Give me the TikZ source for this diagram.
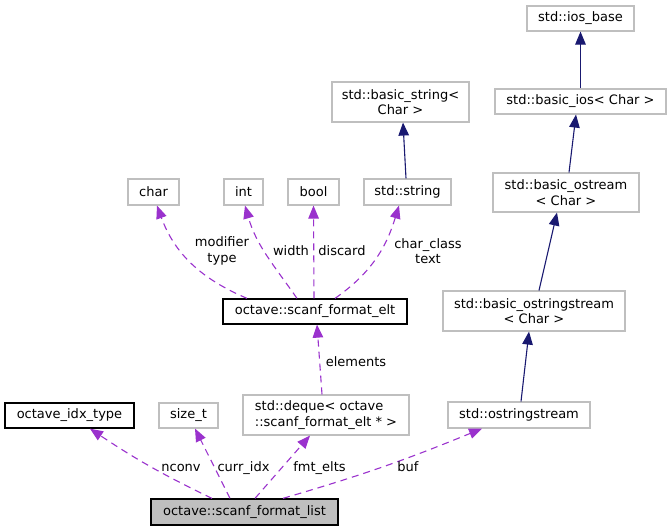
\documentclass[tikz,border=0pt]{standalone}
\usepackage{fontspec}
\setmainfont{DejaVu Sans}
\usetikzlibrary{arrows.meta}
\definecolor{edgepurple}{HTML}{9A32CD}
\definecolor{edgenavy}{HTML}{191970}
\definecolor{boxgray}{HTML}{BFBFBF}
\tikzset{
  cls/.style={draw=boxgray, line width=1.1pt, fill=white, inner sep=0pt, align=center, font=\fontsize{13}{15.5}\selectfont},
  doc/.style={cls, draw=black, line width=1.3pt},
  cur/.style={cls, draw=black, line width=1.3pt, fill=boxgray},
  member/.style={draw=edgepurple, line width=1.1pt, dash pattern=on 7pt off 5pt, -{Triangle[length=13pt,width=10.5pt]}},
  inherit/.style={draw=edgenavy, line width=1.1pt, -{Triangle[length=13pt,width=10.5pt]}},
  lbl/.style={inner sep=0pt, align=center, font=\fontsize{13}{15.5}\selectfont},
}
\begin{document}
\begin{tikzpicture}[x=1pt,y=1pt]
\useasboundingbox (0,0) rectangle (671,-531);
% nodes
\node[cls, minimum width=107pt, minimum height=25pt] (ios) at (580.5,-18.5) {std::ios\_base};
\node[cls, minimum width=171pt, minimum height=25pt] (bios) at (580.5,-101.5) {std::basic\_ios< Char >};
\node[cls, minimum width=146pt, minimum height=39pt] (bost) at (566,-192.5) {std::basic\_ostream\\< Char >};
\node[cls, minimum width=182pt, minimum height=40pt] (bostr) at (534,-311) {std::basic\_ostringstream\\< Char >};
\node[cls, minimum width=142pt, minimum height=26pt] (ostr) at (519,-415) {std::ostringstream};
\node[cls, minimum width=137pt, minimum height=40pt] (bstr) at (400.5,-102) {std::basic\_string<\\Char >};
\node[cls, minimum width=87pt, minimum height=26pt] (str) at (407.5,-192) {std::string};
\node[cls, minimum width=51pt, minimum height=26pt] (chr) at (153.5,-192) {char};
\node[cls, minimum width=39pt, minimum height=26pt] (int) at (243.5,-192) {int};
\node[cls, minimum width=51pt, minimum height=26pt] (bool) at (313.5,-192) {bool};
\node[doc, minimum width=184pt, minimum height=25pt] (elt) at (315,-311.5) {octave::scanf\_format\_elt};
\node[doc, minimum width=129pt, minimum height=25pt] (idx) at (69.5,-415.5) {octave\_idx\_type};
\node[cls, minimum width=59pt, minimum height=25pt] (sizet) at (188.5,-415.5) {size\_t};
\node[cls, minimum width=166pt, minimum height=40pt, align=left] (deque) at (326,-415) {std::deque< octave\\::scanf\_format\_elt * >};
\node[cur, minimum width=187pt, minimum height=26pt] (list) at (244.5,-512) {octave::scanf\_format\_list};
% inheritance edges
\draw[inherit] (bios.north) -- (ios.south);
\draw[inherit] ([xshift=3pt]bost.north) -- ([xshift=-4.5pt]bios.south);
\draw[inherit] ([xshift=5pt]bostr.north) -- ([xshift=-9pt]bost.south);
\draw[inherit] ([xshift=2pt]ostr.north) -- ([xshift=-5pt]bostr.south);
\draw[inherit] ([xshift=-1.5pt]str.north) -- ([xshift=2.5pt]bstr.south);
% member edges from scanf_format_elt
\draw[member] ([xshift=-68pt]elt.north) to[out=157,in=-70] ([xshift=3.5pt]chr.south);
\draw[member] ([xshift=-18pt]elt.north) to[out=125,in=-74] ([xshift=1.5pt]int.south);
\draw[member] ([xshift=-1pt]elt.north) -- (bool.south);
\draw[member] ([xshift=20pt]elt.north) to[out=35,in=-107] ([xshift=-8.5pt]str.south);
\draw[member] ([xshift=-4pt]deque.north) -- ([xshift=2pt]elt.south);
% member edges from scanf_format_list
\draw[member] ([xshift=-32.5pt]list.north) to[bend left=4] ([xshift=20.5pt]idx.south);
\draw[member] ([xshift=-14.5pt]list.north) -- ([xshift=6.5pt]sizet.south);
\draw[member] ([xshift=10.5pt]list.north) -- ([xshift=-16pt]deque.south);
\draw[member] ([xshift=38.5pt]list.north) to[bend right=3] ([xshift=-37pt]ostr.south);
% labels
\node[lbl] (lmod) at (222,-251) {modifier\\type};
\node[lbl, anchor=base] (lwid) at (291,-255) {width};
\node[lbl, anchor=base] (ldis) at (342,-255) {discard};
\node[lbl] (lcc) at (428,-251) {char\_class\\text};
\node[lbl, anchor=base] (lel) at (356,-366) {elements};
\node[lbl, anchor=base] (lnc) at (181,-471) {nconv};
\node[lbl, anchor=base] (lci) at (243.5,-471) {curr\_idx};
\node[lbl, anchor=base] (lfe) at (319.5,-471) {fmt\_elts};
\node[lbl, anchor=base] (lbuf) at (408,-471) {buf};
\end{tikzpicture}
\end{document}
